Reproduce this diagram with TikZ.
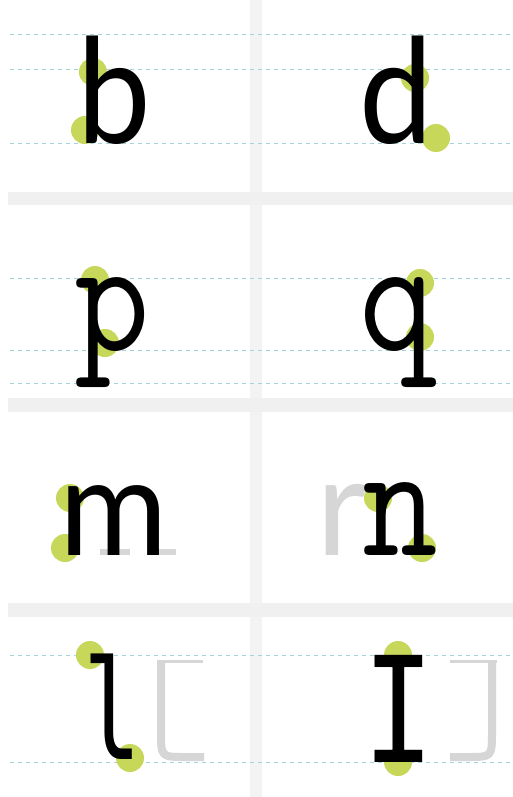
\documentclass[tikz,border=0pt]{standalone}
\usepackage{fontspec}
\newfontfamily\geo{Lato}
\newfontfamily\slab{Latin Modern Mono}
\newfontfamily\mono{DejaVu Sans Mono}
\definecolor{band}{HTML}{F0F0F0}
\definecolor{vband}{HTML}{F3F3F3}
\definecolor{guide}{HTML}{9FD6DE}
\definecolor{dot}{HTML}{C6D75A}
\definecolor{hint}{HTML}{D6D6D6}
\tikzset{
  guideline/.style={draw=guide, line width=1pt, dash pattern=on 4pt off 4pt},
  tdot/.style={fill=dot, circle, minimum size=28pt, inner sep=0pt},
  glyph/.style={inner sep=0pt, anchor=base, text=black},
  hintstroke/.style={draw=hint, line width=7pt},
}
\begin{document}
\begin{tikzpicture}[x=1pt,y=-1pt]
\useasboundingbox (0,0) rectangle (513,797);
\fill[white] (0,0) rectangle (513,797);
% dividers
\fill[vband] (250,0) rectangle (262,797);
\fill[band] (8,192) rectangle (513,205);
\fill[band] (8,398) rectangle (513,412);
\fill[band] (8,603) rectangle (513,617);
% guide lines
\foreach \y in {35,70,143,278,350,383,655,762}
  \draw[guideline] (10,\y) -- (513,\y);
% dots
\foreach \p/\q [count=\i] in {93/72,85/130,415/78,436/138,95/280,105/343,420/283,420/337,70/498,65/548,378/498,422/548,90/655,130/758,398/655,398/762}
  \node[tdot] (d\i) at (\p,\q) {};
% hint strokes
\draw[hintstroke, line width=6pt] (100,552) -- (130,552) (147,552) -- (176,552);
\node[glyph, text=hint, font=\geo\fontsize{138}{138}\selectfont] (rh) at (342,555) {r};
\draw[hintstroke, line width=3pt] (157,661) -- (203,661);
\draw[hintstroke, line width=8pt] (161,661) -- (161,732) .. controls (161,757) .. (186,757) -- (204,757);
\draw[hintstroke, line width=3pt] (450,661) -- (497,661);
\draw[hintstroke, line width=8pt] (492,661) -- (492,732) .. controls (492,757) .. (467,757) -- (450,757);
% letters
\node[glyph, xscale=0.9, font=\geo\fontsize{146}{146}\selectfont] (b) at (114,143) {b};
\node[glyph, xscale=0.9, font=\geo\fontsize{146}{146}\selectfont] (d) at (396,143) {d};
\node[glyph, xscale=0.88, font=\slab\fontsize{167}{167}\selectfont] (p) at (112,350) {p};
\node[glyph, xscale=0.88, font=\slab\fontsize{167}{167}\selectfont] (q) at (397,350) {q};
\node[glyph, xscale=0.97, font=\geo\fontsize{136}{136}\selectfont] (m) at (114,555) {m};
\node[glyph, xscale=0.88, font=\slab\fontsize{167}{167}\selectfont] (n) at (400,555) {n};
\node[glyph, xscale=0.7, font=\mono\fontsize{138}{138}\selectfont] (l) at (113,759) {l};
\node[glyph, xscale=0.8, font=\mono\fontsize{147}{147}\selectfont] (I) at (399,762) {I};
\end{tikzpicture}
\end{document}
